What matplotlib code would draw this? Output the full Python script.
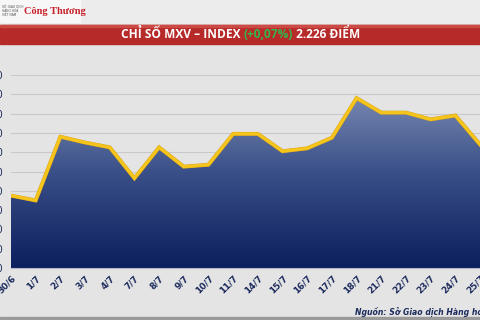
import matplotlib
matplotlib.use("Agg")
import matplotlib.pyplot as plt
import numpy as np
from matplotlib.colors import LinearSegmentedColormap
from matplotlib.patches import Rectangle
import matplotlib.patheffects as pe

DATES = ["30/6", "1/7", "2/7", "3/7", "4/7", "7/7", "8/7", "9/7", "10/7", "11/7",
         "14/7", "15/7", "16/7", "17/7", "18/7", "21/7", "22/7", "23/7", "24/7", "25/7"]
VALUES = [2175, 2170, 2236, 2230, 2225, 2193, 2225, 2205, 2207, 2239,
          2239, 2221, 2224, 2235, 2276, 2261, 2261, 2254, 2258, 2228]
Y_TICKS = [2100, 2120, 2140, 2160, 2180, 2200, 2220, 2240, 2260, 2280, 2300]

TITLE_MAIN = "CHỈ SỐ MXV – INDEX "
TITLE_CHANGE = "(+0,07%)"
TITLE_VALUE = " 2.226 ĐIỂM"
SOURCE = "Nguồn: Sở Giao dịch Hàng hóa Việt Nam"

NAVY = "#1b2a5c"
W, H = 480, 320

fig = plt.figure(figsize=(4.8, 3.2), dpi=100)
fig.patch.set_facecolor("#e4e4e4")

# header strip with logo
fig.patches.append(Rectangle((0, 1 - 23 / H), 1, 23 / H, transform=fig.transFigure,
                             color="#ececec", zorder=0))
fig.patches.append(Rectangle((0, 1 - 22 / H), 80 / W, 22 / H, transform=fig.transFigure,
                             color="#f7f7f7", zorder=0))
fig.text(2 / W, 1 - 11 / H, "SỞ GIAO DỊCH\nHÀNG HÓA\nVIỆT NAM", fontsize=2.2, color="#555555",
         va="center", ha="left", linespacing=1.0)
fig.text(24 / W, 1 - 11 / H, "Công Thương", fontsize=7.5, color="#c8202a", family="Liberation Serif",
         fontweight="bold", va="center", ha="left")

# red banner
fig.patches.append(Rectangle((0, 1 - 44 / H), 1, 19 / H, transform=fig.transFigure,
                             color="#b72a2a", zorder=0))
fig.patches.append(Rectangle((0, 1 - 27 / H), 1, 2 / H, transform=fig.transFigure,
                             color="#cc4a45", zorder=0))

title_kw = dict(fontsize=8.6, fontweight="bold", family="Open Sans", va="center")
t1 = fig.text(121 / W, 1 - 34.5 / H, TITLE_MAIN, color="white", **title_kw)
fig.canvas.draw()
renderer = fig.canvas.get_renderer()
x = t1.get_window_extent(renderer).x1
t2 = fig.text(x / W, 1 - 34.5 / H, TITLE_CHANGE, color="#35b44a", **title_kw)
x = t2.get_window_extent(renderer).x1
fig.text(x / W, 1 - 34.5 / H, TITLE_VALUE, color="white", **title_kw)

# chart area
ax = fig.add_axes([11 / W, (H - 268) / H, (W - 11) / W, (268 - 75) / H])
ax.set_facecolor("none")
xs = np.arange(len(VALUES))
ax.set_xlim(0, len(VALUES) - 1)
ax.set_ylim(Y_TICKS[0], Y_TICKS[-1])

cmap = LinearSegmentedColormap.from_list("fill", ["#0c1f5e", "#3a5088", "#8796bb"])
grad = np.linspace(0, 1, 256).reshape(-1, 1)
img = ax.imshow(grad, cmap=cmap, aspect="auto", origin="lower",
                extent=[0, len(VALUES) - 1, Y_TICKS[0], Y_TICKS[-1]], zorder=1)
poly = ax.fill_between(xs, VALUES, Y_TICKS[0], color="none", zorder=1)
img.set_clip_path(poly.get_paths()[0], transform=ax.transData)

ax.plot(xs, VALUES, color="#f6c51c", lw=2.2, zorder=3, solid_joinstyle="miter",
        path_effects=[pe.Stroke(linewidth=2.8, foreground="#d9a21a"), pe.Normal()])

ax.set_yticks(Y_TICKS)
ax.set_yticklabels([f"{v // 1000}.{v % 1000:03d}" for v in Y_TICKS])
ax.grid(axis="y", color="#c9c9c9", lw=0.8, zorder=0)
ax.set_axisbelow(True)
ax.tick_params(axis="y", length=0, pad=5.5, labelsize=7, labelcolor=NAVY)
ax.set_xticks(xs)
ax.set_xticklabels(DATES, rotation=45, ha="right", rotation_mode="anchor")
ax.tick_params(axis="x", length=0, pad=4, labelsize=6.3, labelcolor=NAVY)
for lab in ax.get_xticklabels():
    lab.set_fontweight("bold")
for side in ["top", "right", "left"]:
    ax.spines[side].set_visible(False)
ax.spines["bottom"].set_color("#b0b6c8")

fig.text(355 / W, 1 - 312 / H, SOURCE, fontsize=5.6, style="italic", fontweight="bold",
         color=NAVY, va="center", ha="left")
fig.patches.append(Rectangle((0, 0), 1, 3 / H, transform=fig.transFigure, color="#9a9a9a", zorder=0))

fig.savefig("out.png", dpi=100, facecolor=fig.get_facecolor())
